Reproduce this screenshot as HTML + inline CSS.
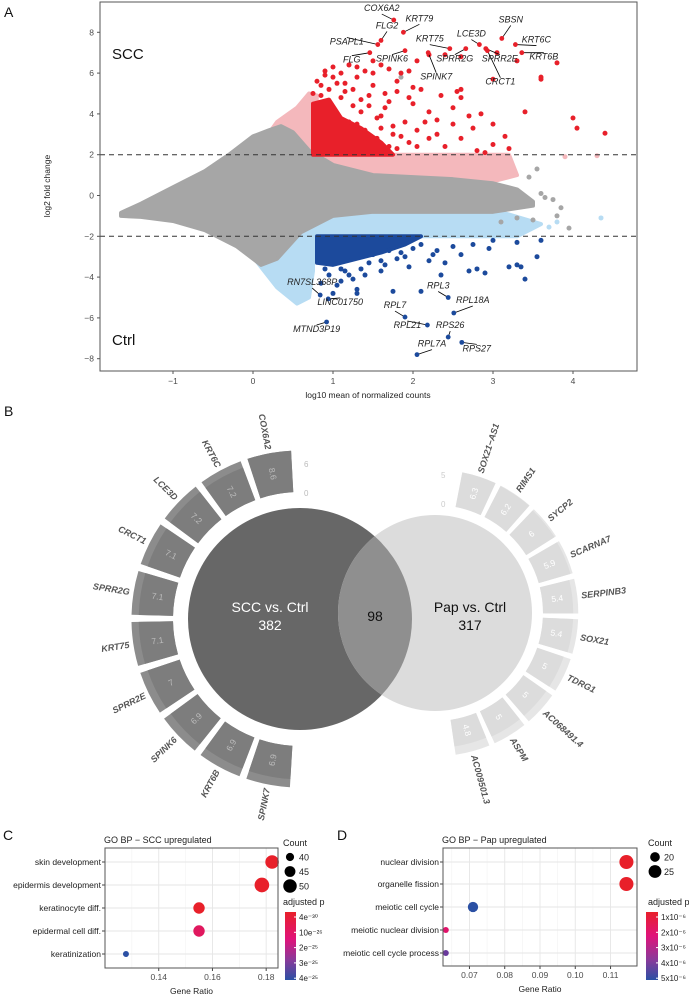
<!DOCTYPE html>
<html><head><meta charset="utf-8">
<style>
html,body{margin:0;padding:0;background:#fff;}
svg{display:block;font-family:"Liberation Sans",Arial,sans-serif;}
</style></head>
<body>
<svg id="fig" width="689" height="994" viewBox="0 0 689 994" xmlns="http://www.w3.org/2000/svg">
<defs>
<linearGradient id="gradC" x1="0" y1="0" x2="0" y2="1">
<stop offset="0" stop-color="#e8202a"/><stop offset="0.4" stop-color="#e0137a"/><stop offset="0.7" stop-color="#8a3a9a"/><stop offset="1" stop-color="#2b50a4"/></linearGradient>
<linearGradient id="gradD" x1="0" y1="0" x2="0" y2="1">
<stop offset="0" stop-color="#e8202a"/><stop offset="0.35" stop-color="#e0137a"/><stop offset="0.7" stop-color="#8a3a9a"/><stop offset="1" stop-color="#2b50a4"/></linearGradient>
<clipPath id="clipA"><rect x="100" y="2" width="537" height="369"/></clipPath>
</defs>
<g id="pA"></g>
<g id="pB"></g>
<g id="pC"></g>
<g id="pD"></g>
</svg>
<script>
// ===== Panel A data =====
const xTicksA = [-1, 0, 1, 2, 3, 4];
const yTicksA = [-8, -6, -4, -2, 0, 2, 4, 6, 8];
const greyCloud = [[-1.65,-0.85],[-1.4,-0.4],[-1.0,0.4],[-0.6,1.2],[-0.3,2.0],[0,2.9],[0.2,3.2],[0.35,3.4],[0.5,3.1],[0.7,2.2],[1.0,1.5],[1.5,1.0],[2.5,0.8],[3.0,0.6],[3.3,0.3],[3.5,-0.3],[3.5,-0.5],[3.0,-0.8],[2.5,-0.8],[1.5,-0.8],[1.0,-1.0],[0.6,-1.8],[0.3,-3.1],[0.1,-3.4],[-0.2,-2.5],[-0.6,-1.7],[-1.0,-1.25],[-1.4,-1.05],[-1.65,-1.0]];
const pinkCloud = [[0.1,2.5],[0.3,3.6],[0.55,4.3],[0.7,5.0],[0.8,4.9],[0.75,2.0],[2.2,2.0],[3.2,2.0],[3.3,1.0],[2.9,0.6],[1.5,0.9],[0.5,2.3]];
const blueLightCloud = [[0.0,-3.0],[0.3,-4.5],[0.55,-5.3],[0.7,-5.0],[0.75,-3.7],[0.75,-2.0],[2.2,-2.0],[3.3,-2.0],[3.6,-1.4],[3.0,-0.7],[1.5,-0.8],[0.8,-1.0],[0.3,-2.0]];
const redDense = [[0.75,2],[0.75,4.5],[0.95,4.7],[1.1,3.8],[1.35,3.3],[1.6,2.6],[1.75,2.0]];
const blueDense = [[0.8,-2],[0.8,-3.3],[1.0,-3.4],[1.3,-3.1],[1.6,-2.8],[1.9,-2.4],[2.1,-2.0]];
const redX = [3.8,4.0,4.05,4.4,3.4,3.0,3.0,2.85,2.75,2.6,2.55,2.6,2.5,2.35,2.3,2.2,2.1,2.0,1.95,1.85,1.8,1.7,1.6,1.5,1.4,1.3,1.2,1.1,1.0,0.9,0.8,0.75,1.25,1.5,1.7,1.9,2.2,2.4,2.8,3.0,3.2,3.6,3.6,3.3,3.05,2.6,2.4,2.2,2.05,1.95,1.65,1.45,1.3,1.6,1.75,2.05,1.1,1.0,0.95,1.4,1.8,2.6,2.9,3.15,2.7,1.15,1.35,0.85,0.85,0.95,1.05,1.15,1.25,1.35,1.45,1.55,1.65,1.75,1.85,1.95,2.05,2.15,1.05,1.2,1.4,1.55,1.7,0.9,1.0,1.3,1.5,1.8,2.0,2.3,2.5,1.1,1.6];
const redY = [6.5,3.8,3.3,3.05,4.1,5.7,3.5,4.0,3.3,4.8,5.1,5.2,4.3,4.9,3.7,4.1,5.2,5.3,4.8,6.0,5.6,6.2,6.4,6.6,6.1,6.3,6.4,6.0,5.8,6.1,5.6,5.0,5.2,5.4,4.6,3.6,2.8,2.4,2.2,2.5,2.3,5.8,5.7,6.6,7.0,6.8,6.9,6.9,6.6,6.1,5.0,4.4,3.5,3.3,3.0,3.2,4.8,4.3,3.9,2.6,2.3,2.8,2.1,2.9,3.9,5.5,4.7,5.4,4.9,5.2,5.5,5.1,4.4,4.1,4.9,3.8,4.3,3.4,2.9,2.6,2.4,3.6,3.9,3.6,3.2,2.8,2.4,5.9,6.3,5.8,6.0,5.1,4.5,3.0,3.5,3.2,3.9];
const blueX = [0.85,1.0,1.3,1.3,1.75,2.1,2.35,2.7,2.8,2.9,3.3,3.4,3.2,3.35,3.55,3.3,2.95,2.75,2.6,2.4,2.2,2.1,1.95,1.8,1.6,1.5,1.35,1.2,1.1,0.9,3.6,3.0,1.05,1.25,1.45,1.6,1.7,1.85,2.0,2.3,2.5,1.15,1.4,1.65,1.9,2.25,0.95,1.1];
const blueY = [-4.3,-4.8,-4.6,-4.8,-4.7,-4.7,-3.9,-3.7,-3.6,-3.8,-3.4,-4.1,-3.5,-3.5,-3.0,-2.3,-2.6,-2.4,-2.9,-3.3,-3.2,-2.4,-3.5,-3.1,-3.7,-2.9,-3.6,-3.9,-4.2,-3.6,-2.2,-2.2,-4.4,-4.1,-3.3,-3.2,-2.7,-2.8,-2.6,-2.7,-2.5,-3.7,-3.9,-3.4,-3.0,-2.9,-3.9,-3.6];
const greyOutX = [3.45,3.6,3.65,3.75,3.85,3.8,3.5,3.95,3.3,3.1,3.2,3.4,1.85,3.55];
const greyOutY = [0.9,0.1,-0.1,-0.2,-0.6,-1.0,-1.2,-1.6,-1.1,-1.3,-0.6,-0.5,5.8,1.3];
const lbOutX = [4.35,3.8,3.7];
const lbOutY = [-1.1,-1.3,-1.55];
const pinkOutX = [4.3,3.9,3.2];
const pinkOutY = [1.95,1.9,1.7];
const upGenes = ["COX6A2","KRT79","FLG2","PSAPL1","SBSN","LCE3D","KRT75","KRT6C","KRT6B","FLG","SPINK6","SPRR2G","SPRR2E","CRCT1","SPINK7"];
const upX = [1.76,1.88,1.6,1.56,3.11,2.83,2.46,3.28,3.36,1.46,1.9,2.66,2.91,2.93,2.19];
const upY = [8.6,8.0,7.6,7.4,7.7,7.4,7.2,7.4,7.0,7.0,7.1,7.2,7.2,7.1,7.0];
const upLabelOff = [[-12,-9],[16,-11],[6,-12],[-31,0],[9,-16],[-8,-8],[-20,-7],[21,-2],[22,7],[-18,10],[-13,11],[-11,13],[14,13],[13,34],[8,27]];
const downGenes = ["RN7SL368P","LINC01750","MTND3P19","RPL7","RPL3","RPL18A","RPL21","RPS26","RPL7A","RPS27"];
const downX = [0.84,0.94,0.92,1.9,2.44,2.51,2.18,2.44,2.05,2.61];
const downY = [-4.88,-5.07,-6.2,-5.96,-5.0,-5.76,-6.35,-6.94,-7.8,-7.2];
const downLabelOff = [[-8,-10],[12,6],[-10,10],[-10,-9],[-10,-9],[19,-10],[-20,3],[2,-9],[15,-8],[15,9]];

// ===== Panel B data =====
const sccGenes = ["SPINK7","KRT6B","SPINK6","SPRR2E","KRT75","SPRR2G","CRCT1","LCE3D","KRT6C","COX6A2"];
const sccVals = [6.9,6.9,6.9,7,7.1,7.1,7.1,7.2,7.2,8.6];
const papGenes = ["SOX21\u2212AS1","RIMS1","SYCP2","SCARNA7","SERPINB3","SOX21","TDRG1","AC068491.4","ASPM","AC009501.3"];
const papVals = [6.3,6.2,6,5.9,5.4,5.4,5,5,5,4.8];
const vennCounts = [382, 98, 317];

// ===== Panel C/D data =====
const cTerms = ["skin development","epidermis development","keratinocyte diff.","epidermal cell diff.","keratinization"];
const cRatio = [0.1822,0.1784,0.155,0.155,0.1278];
const cCount = [50,52,46,46,36];
const cColor = ["#e8202a","#e8202a","#e8202a","#e0185e","#2b50a4"];
const cTicks = [0.14,0.16,0.18];
const cCountLegend = [40,45,50];
const cPLabels = ["4e\u207B\u00B3\u2070","10e\u207B\u00B2\u2076","2e\u207B\u00B2\u2075","3e\u207B\u00B2\u2075","4e\u207B\u00B2\u2075"];
const dTerms = ["nuclear division","organelle fission","meiotic cell cycle","meiotic nuclear division","meiotic cell cycle process"];
const dRatio = [0.1145,0.1145,0.071,0.0633,0.0633];
const dCount = [27,27,21,14,14];
const dColor = ["#e8202a","#e8202a","#2b50a4","#e0136a","#6a3a9c"];
const dTicks = [0.07,0.08,0.09,0.10,0.11];
const dCountLegend = [20,25];
const dPLabels = ["1x10\u207B\u2076","2x10\u207B\u2076","3x10\u207B\u2076","4x10\u207B\u2076","5x10\u207B\u2076"];

const NS="http://www.w3.org/2000/svg";
function mk(parent, tag, attrs, text){
  const e=document.createElementNS(NS,tag);
  for(const k in attrs) e.setAttribute(k,attrs[k]);
  if(text!==undefined) e.textContent=text;
  parent.appendChild(e); return e;
}

// ===== Panel A =====
(function(){
  const g=document.getElementById('pA');
  const sx=v=>253+v*80, sy=v=>195.5-v*20.4;
  const L=100,R=637,T=2,B=371;
  let t=mk(g,'text',{x:4,y:17,'font-size':14,fill:'#111'},'A');
   
  const pg=mk(g,'g',{'clip-path':'url(#clipA)'});
  function poly(arr,fill,name){
    const p=mk(pg,'polygon',{points:arr.map(d=>sx(d[0])+','+sy(d[1])).join(' '),fill:fill,stroke:fill,'stroke-width':4,'stroke-linejoin':'round'});
    
    
  }
  poly(pinkCloud,'#f4b8bc','up-nonsig-cloud');
  poly(blueLightCloud,'#b7dcf3','down-nonsig-cloud');
  poly(greyCloud,'#a6a6a6','nonsig-cloud');
  poly(redDense,'#e8202a','up-dense');
  poly(blueDense,'#1c4a9c','down-dense');
  function pts(xs,ys,col,name,r){
    for(let i=0;i<xs.length;i++){
      const c=mk(pg,'circle',{cx:sx(xs[i]),cy:sy(ys[i]),r:r||2.5,fill:col});
      
      
    }
  }
  pts(greyOutX,greyOutY,'#a6a6a6','grey-point');
  pts(lbOutX,lbOutY,'#b7dcf3','lightblue-point');
  pts(pinkOutX,pinkOutY,'#f4b8bc','pink-point');
  pts(redX,redY,'#e8202a','up-point');
  pts(blueX,blueY,'#1c4a9c','down-point');
  [2,-2].forEach(v=>{
    const l=mk(g,'line',{x1:L,x2:R,y1:sy(v),y2:sy(v),stroke:'#333','stroke-width':1,'stroke-dasharray':'5,4'});
    
    
  });
  function labelled(names,xs,ys,offs,col,name){
    for(let i=0;i<names.length;i++){
      const px=sx(xs[i]),py=sy(ys[i]);
      const lx=px+offs[i][0],ly=py+offs[i][1];
      mk(g,'line',{x1:px,y1:py,x2:lx,y2:ly+(offs[i][1]<0?3:-7),stroke:'#000','stroke-width':0.8});
      const c=mk(g,'circle',{cx:px,cy:py,r:2.4,fill:col});
      
      
      const tx=mk(g,'text',{x:lx,y:ly,'font-size':9,'font-style':'italic','text-anchor':'middle',fill:'#222'},names[i]);
      
      
    }
  }
  labelled(upGenes,upX,upY,upLabelOff,'#e8202a','up-labelled');
  labelled(downGenes,downX,downY,downLabelOff,'#1c4a9c','down-labelled');
  const box=mk(g,'rect',{x:L,y:T,width:R-L,height:B-T,fill:'none',stroke:'#555','stroke-width':1});
   
  xTicksA.forEach(v=>{
    mk(g,'line',{x1:sx(v),x2:sx(v),y1:B,y2:B+3,stroke:'#555'});
    const tt=mk(g,'text',{x:sx(v),y:B+13,'font-size':8.5,'text-anchor':'middle',fill:'#4d4d4d'},v<0?'\u2212'+(-v):String(v));
     
  });
  yTicksA.forEach(v=>{
    mk(g,'line',{x1:L-3,x2:L,y1:sy(v),y2:sy(v),stroke:'#555'});
    const tt=mk(g,'text',{x:L-6,y:sy(v)+3,'font-size':8.5,'text-anchor':'end',fill:'#4d4d4d'},v<0?'\u2212'+(-v):String(v));
     
  });
  t=mk(g,'text',{x:368,y:398,'font-size':8.5,'text-anchor':'middle',fill:'#222'},'log10 mean of normalized counts');
   
  t=mk(g,'text',{x:0,y:0,'font-size':8.5,'text-anchor':'middle',fill:'#222',transform:'translate(50,186) rotate(-90)'},'log2 fold change');
   
  t=mk(g,'text',{x:112,y:59,'font-size':15,fill:'#111'},'SCC');
   
  t=mk(g,'text',{x:112,y:345,'font-size':15,fill:'#111'},'Ctrl');
   
})();

// ===== Panel B =====
(function(){
  const g=document.getElementById('pB');
  let t=mk(g,'text',{x:4,y:416,'font-size':14,fill:'#111'},'B');
   
  const P=(cx,cy,r,a)=>[cx+r*Math.sin(a*Math.PI/180),cy-r*Math.cos(a*Math.PI/180)];
  function sector(cx,cy,r0,r1,a0,a1){
    const p1=P(cx,cy,r0,a0),p2=P(cx,cy,r1,a0),p3=P(cx,cy,r1,a1),p4=P(cx,cy,r0,a1);
    return `M${p1} L${p2} A${r1},${r1} 0 0 1 ${p3} L${p4} A${r0},${r0} 0 0 0 ${p1}Z`;
  }
  function ring(cx,cy,genes,vals,a0,step,r0,k,barCol,trackCol,valCol,trackMax,rotOff,anchor,name){
    for(let i=0;i<genes.length;i++){
      const a=a0+i*step, w=step*0.43;
      const tr=mk(g,'path',{d:sector(cx,cy,r0,r0+trackMax*k,a-w,a+w),fill:trackCol});
       
      const rOut=r0+vals[i]*k;
      const b=mk(g,'path',{d:sector(cx,cy,r0,rOut,a-w,a+w),fill:barCol});
       
      const rot=a-rotOff;
      const vm=P(cx,cy,(r0+rOut)/2,a);
      const vt=mk(g,'text',{x:vm[0],y:vm[1]+3,'font-size':8.5,'text-anchor':'middle',fill:valCol,transform:`rotate(${rot} ${vm[0]} ${vm[1]})`},String(vals[i]));
       
      const lp=P(cx,cy,Math.max(rOut,r0+trackMax*k)+4,a);
      const lt=mk(g,'text',{x:lp[0],y:lp[1]+3,'font-size':9,'font-weight':'bold','font-style':'italic','text-anchor':anchor,fill:'#555',transform:`rotate(${rot} ${lp[0]} ${lp[1]})`},genes[i]);
       
    }
  }
  ring(300,619,sccGenes,sccVals,191,17.6,127,4.83,'#7d7d7d','#8c8c8c','#bdbdbd',8.6,270,'end','scc-ring');
  ring(435,613,papGenes,papVals,18,16.3,108,5.6,'#dcdcdc','#e6e6e6','#ffffff',6.3,90,'start','pap-ring');
  [['6',304,467],['0',304,496]].forEach(s=>{const e=mk(g,'text',{x:s[1],y:s[2],'font-size':8,fill:'#bbb'},s[0]);});
  [['5',441,478],['0',441,507]].forEach(s=>{const e=mk(g,'text',{x:s[1],y:s[2],'font-size':8,fill:'#ccc'},s[0]);});
  let c=mk(g,'ellipse',{cx:300,cy:619,rx:112,ry:111,fill:'#676767'});
   
  c=mk(g,'ellipse',{cx:435,cy:613,rx:97,ry:98,fill:'#dcdcdc'});
   
  const cp=mk(g,'clipPath',{id:'clipL'}); mk(cp,'ellipse',{cx:300,cy:619,rx:112,ry:111});
  c=mk(g,'ellipse',{cx:435,cy:613,rx:97,ry:98,fill:'#8f8f8f','clip-path':'url(#clipL)'});
   
  t=mk(g,'text',{x:270,y:612,'font-size':14,'text-anchor':'middle',fill:'#fff'},'SCC vs. Ctrl');
   
  t=mk(g,'text',{x:270,y:630,'font-size':14,'text-anchor':'middle',fill:'#fff'},String(vennCounts[0]));
   
  t=mk(g,'text',{x:375,y:621,'font-size':14,'text-anchor':'middle',fill:'#111'},String(vennCounts[1]));
   
  t=mk(g,'text',{x:470,y:612,'font-size':14,'text-anchor':'middle',fill:'#111'},'Pap vs. Ctrl');
   
  t=mk(g,'text',{x:470,y:630,'font-size':14,'text-anchor':'middle',fill:'#111'},String(vennCounts[2]));
   
})();

// ===== Dot plots =====
function dotPlot(gid,letter,lx,title,tx,L,R,T,B,x0,x1,ticks,terms,ratio,count,color,rowY,legX,countLeg,rFn,grad,pLabels,cbX,cbW){
  const g=document.getElementById(gid);
  const sx=v=>L+(v-x0)/(x1-x0)*(R-L);
  let t=mk(g,'text',{x:lx,y:840,'font-size':14,fill:'#111'},letter);
   
  t=mk(g,'text',{x:tx,y:843,'font-size':9,fill:'#222'},title);
   
  mk(g,'rect',{x:L,y:T,width:R-L,height:B-T,fill:'#fff'});
  for(let i=0;i<ticks.length-1;i++){
    const m=(ticks[i]+ticks[i+1])/2;
    mk(g,'line',{x1:sx(m),x2:sx(m),y1:T,y2:B,stroke:'#f2f2f2','stroke-width':0.6});
  }
  mk(g,'line',{x1:sx(ticks[0]-(ticks[1]-ticks[0])/2),x2:sx(ticks[0]-(ticks[1]-ticks[0])/2),y1:T,y2:B,stroke:'#f2f2f2','stroke-width':0.6});
  ticks.forEach(v=>{
    mk(g,'line',{x1:sx(v),x2:sx(v),y1:T,y2:B,stroke:'#e6e6e6','stroke-width':0.9});
    mk(g,'line',{x1:sx(v),x2:sx(v),y1:B,y2:B+3,stroke:'#444'});
    const e=mk(g,'text',{x:sx(v),y:B+12,'font-size':8.5,'text-anchor':'middle',fill:'#4d4d4d'},v.toFixed(2));
     
  });
  terms.forEach((term,i)=>{
    const y=rowY[i];
    mk(g,'line',{x1:L,x2:R,y1:y,y2:y,stroke:'#e6e6e6','stroke-width':0.9});
    mk(g,'line',{x1:L-3,x2:L,y1:y,y2:y,stroke:'#444'});
    const e=mk(g,'text',{x:L-4,y:y+3,'font-size':8.5,'text-anchor':'end',fill:'#222'},term);
     
  });
  terms.forEach((term,i)=>{
    const c=mk(g,'circle',{cx:sx(ratio[i]),cy:rowY[i],r:rFn(count[i]),fill:color[i]});
     
  });
  const bx=mk(g,'rect',{x:L,y:T,width:R-L,height:B-T,fill:'none',stroke:'#555','stroke-width':1});
   
  t=mk(g,'text',{x:(L+R)/2,y:B+26,'font-size':8.5,'text-anchor':'middle',fill:'#222'},'Gene Ratio');
   
  t=mk(g,'text',{x:legX,y:846,'font-size':9,fill:'#222'},'Count');
   
  countLeg.forEach((v,i)=>{
    const y=857+i*14.5;
    const c=mk(g,'circle',{cx:legX+7,cy:y,r:rFn(v),fill:'#000'});
     
    const e=mk(g,'text',{x:legX+16,y:y+3.5,'font-size':9,fill:'#222'},String(v));
     
  });
  t=mk(g,'text',{x:legX,y:905,'font-size':9,fill:'#222'},'adjusted p');
   
  const cb=mk(g,'rect',{x:cbX,y:912,width:cbW,height:68,fill:'url(#'+grad+')'});
   
  pLabels.forEach((s,i)=>{
    const y=917+i*15.3;
    mk(g,'line',{x1:cbX+cbW-2,x2:cbX+cbW,y1:y,y2:y,stroke:'#fff'});
    const e=mk(g,'text',{x:cbX+cbW+3,y:y+3,'font-size':8,fill:'#222'},s);
     
  });
}
const rowsC=[862,885,908,931,954];
dotPlot('pC','C',3,'GO BP \u2212 SCC upregulated',104,105,278,848,968,0.12,0.1844,cTicks,cTerms,cRatio,cCount,cColor,rowsC,283,cCountLegend,c=>3+(c-36)*0.27,'gradC',cPLabels,285,11);
const rowsD=[862,884,907,930,953];
dotPlot('pD','D',337,'GO BP \u2212 Pap upregulated',442,443,637,848,966,0.0625,0.1175,dTicks,dTerms,dRatio,dCount,dColor,rowsD,648,dCountLegend,c=>3+(c-14)*0.31,'gradD',dPLabels,646,12);
</script>
</body></html>
